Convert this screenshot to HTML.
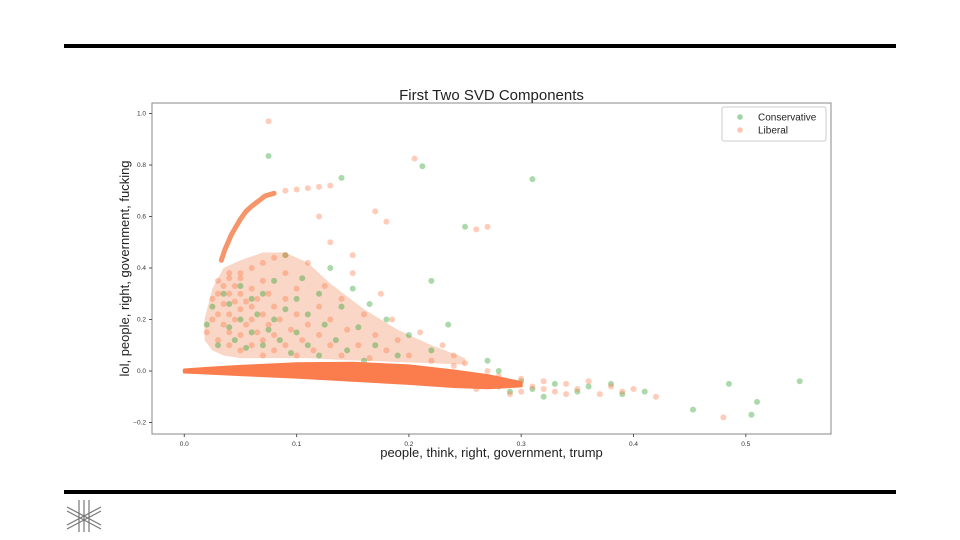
<!DOCTYPE html>
<html><head><meta charset="utf-8"><style>
body{margin:0;background:#fff;font-family:"Liberation Sans","DejaVu Sans",sans-serif;}
#wrap{position:relative;width:960px;height:540px;overflow:hidden;}
</style></head><body>
<div id="wrap">
<div style="position:absolute;left:64px;top:44px;width:832px;height:4px;background:#000"></div>
<div style="position:absolute;left:64px;top:490px;width:832px;height:4px;background:#000"></div>
<svg style="position:absolute;left:64px;top:498px" width="40" height="36" viewBox="0 0 40 36">
<g stroke="#777" stroke-width="1.2" fill="none">
<line x1="15" y1="2" x2="15" y2="34"/><line x1="20" y1="2" x2="20" y2="34"/><line x1="25" y1="2" x2="25" y2="34"/>
<line x1="3" y1="9" x2="37" y2="27"/><line x1="3" y1="13" x2="37" y2="31"/>
<line x1="3" y1="27" x2="37" y2="9"/><line x1="3" y1="31" x2="37" y2="13"/>
</g></svg>
<svg id="chart" width="960" height="540" style="position:absolute;left:0;top:0"></svg>
</div>
<script>
const xTicks=[0.0,0.1,0.2,0.3,0.4,0.5];
const yTicks=[-0.2,0.0,0.2,0.4,0.6,0.8,1.0];
const bandX=[0.0,0.02,0.05,0.1,0.15,0.2,0.24,0.27,0.3];
const bandUpper=[0.004,0.01,0.018,0.028,0.03,0.02,0.0,-0.018,-0.045];
const bandLower=[-0.004,-0.008,-0.014,-0.024,-0.036,-0.048,-0.06,-0.065,-0.058];
const cloudX=[0.018,0.025,0.035,0.05,0.07,0.09,0.11,0.13,0.16,0.19,0.22,0.25];
const cloudUpper=[0.2,0.32,0.4,0.43,0.46,0.46,0.42,0.34,0.24,0.16,0.1,0.05];
const cloudLower=[0.12,0.08,0.06,0.05,0.05,0.05,0.05,0.045,0.04,0.035,0.03,0.025];
const arcX=[0.033,0.036,0.039,0.042,0.046,0.05,0.055,0.06,0.066,0.072,0.08];
const arcY=[0.43,0.47,0.5,0.53,0.56,0.59,0.62,0.64,0.66,0.68,0.69];
const libPts=[[0.075,0.97],[0.205,0.825],[0.48,-0.18],
[0.09,0.7],[0.1,0.705],[0.11,0.71],[0.12,0.715],[0.13,0.72],
[0.03,0.3],[0.035,0.33],[0.04,0.36],[0.05,0.38],[0.06,0.4],[0.07,0.42],[0.08,0.44],[0.09,0.45],
[0.02,0.15],[0.025,0.2],[0.025,0.28],[0.03,0.12],[0.03,0.22],[0.03,0.35],[0.035,0.18],[0.035,0.26],[0.04,0.1],[0.04,0.15],[0.04,0.22],[0.04,0.3],[0.04,0.38],[0.045,0.2],[0.045,0.27],[0.045,0.33],[0.05,0.08],[0.05,0.14],[0.05,0.24],[0.05,0.3],[0.05,0.36],[0.055,0.18],[0.055,0.27],[0.06,0.1],[0.06,0.2],[0.06,0.25],[0.06,0.32],[0.065,0.15],[0.065,0.28],[0.07,0.06],[0.07,0.12],[0.07,0.22],[0.07,0.35],[0.075,0.18],[0.075,0.3],[0.08,0.08],[0.08,0.14],[0.08,0.25],[0.085,0.2],[0.09,0.1],[0.09,0.28],[0.09,0.38],[0.095,0.16],[0.1,0.06],[0.1,0.22],[0.1,0.32],[0.105,0.12],[0.11,0.18],[0.11,0.42],[0.115,0.08],[0.12,0.25],[0.12,0.14],[0.125,0.33],[0.13,0.1],[0.13,0.2],[0.14,0.06],[0.14,0.28],[0.145,0.16],[0.15,0.38],[0.155,0.1],[0.16,0.22],[0.165,0.05],[0.17,0.14],[0.175,0.3],[0.18,0.08],[0.185,0.2],[0.19,0.12],[0.2,0.06],[0.21,0.15],[0.22,0.04],[0.23,0.1],[0.24,0.06],[0.25,0.03],[0.26,0.55],[0.27,0.56],[0.18,0.58],[0.15,0.45],[0.13,0.5],[0.24,0.02],[0.17,0.62],[0.12,0.6],
[0.3,-0.03],[0.31,-0.06],[0.32,-0.04],[0.33,-0.08],[0.34,-0.05],[0.35,-0.07],[0.36,-0.04],[0.37,-0.09],[0.38,-0.06],[0.39,-0.08],[0.4,-0.07],[0.42,-0.1],[0.29,-0.09],[0.28,-0.02],[0.27,0.0],[0.26,-0.07],[0.3,-0.08],[0.32,-0.07],[0.34,-0.09]];
const consPts=[[0.075,0.835],[0.212,0.795],[0.31,0.745],[0.485,-0.05],[0.548,-0.04],[0.505,-0.17],[0.51,-0.12],[0.453,-0.15],
[0.02,0.18],[0.025,0.25],[0.03,0.1],[0.035,0.3],[0.04,0.17],[0.04,0.26],[0.045,0.12],[0.05,0.2],[0.05,0.33],[0.055,0.09],[0.06,0.15],[0.06,0.28],[0.065,0.22],[0.07,0.1],[0.07,0.3],[0.075,0.16],[0.08,0.2],[0.08,0.35],[0.085,0.12],[0.09,0.24],[0.09,0.45],[0.095,0.07],[0.1,0.15],[0.1,0.28],[0.105,0.36],[0.11,0.1],[0.11,0.22],[0.12,0.3],[0.12,0.06],[0.125,0.18],[0.13,0.4],[0.135,0.12],[0.14,0.25],[0.145,0.08],[0.15,0.32],[0.155,0.17],[0.16,0.04],[0.165,0.26],[0.17,0.1],[0.18,0.2],[0.19,0.06],[0.2,0.14],[0.22,0.35],[0.22,0.08],[0.235,0.18],[0.25,0.56],[0.14,0.75],[0.27,0.04],[0.28,0.0],
[0.26,-0.05],[0.28,-0.06],[0.3,-0.04],[0.31,-0.07],[0.33,-0.05],[0.35,-0.08],[0.36,-0.06],[0.38,-0.05],[0.39,-0.09],[0.41,-0.08],[0.29,-0.08],[0.32,-0.1],[0.27,-0.03],[0.25,-0.04]];

const L=152,R=831,T=103,B=434;
const sx=v=>184.3+v*1123;
const sy=v=>371-v*257.5;
const NS='http://www.w3.org/2000/svg';
const svg=document.getElementById('chart');
function mk(tag,attrs,parent){const e=document.createElementNS(NS,tag);for(const k in attrs)e.setAttribute(k,attrs[k]);(parent||svg).appendChild(e);return e;}
function envPath(xs,up,lo){let d='M'+xs.map((x,i)=>sx(x)+','+sy(up[i])).join(' L');
 d+=' L'+xs.slice().reverse().map((x,i)=>sx(x)+','+sy(lo[xs.length-1-i])).join(' L')+' Z';return d;}

const frame=mk('rect',{x:L,y:T,width:R-L,height:B-T,fill:'none',stroke:'#888','stroke-width':1});



const t=mk('text',{x:(L+R)/2,y:100,'text-anchor':'middle','font-size':15,fill:'#222'});
t.textContent='First Two SVD Components';



xTicks.forEach(v=>{
  mk('line',{x1:sx(v),x2:sx(v),y1:B,y2:B+3,stroke:'#555'});
  const e=mk('text',{x:sx(v),y:B+12,'text-anchor':'middle','font-size':6.5,fill:'#333'});
  e.textContent=v.toFixed(1);
  
  
});
yTicks.forEach(v=>{
  mk('line',{x1:L-3,x2:L,y1:sy(v),y2:sy(v),stroke:'#555'});
  const e=mk('text',{x:L-6,y:sy(v)+2,'text-anchor':'end','font-size':6.5,fill:'#333'});
  e.textContent=v<0?'\u2212'+Math.abs(v).toFixed(1):v.toFixed(1);
  
  
});
const xl=mk('text',{x:(L+R)/2,y:457,'text-anchor':'middle','font-size':13,fill:'#222'});
xl.textContent='people, think, right, government, trump';


const yl=mk('text',{x:0,y:0,'text-anchor':'middle','font-size':13,fill:'#222',transform:`translate(129,${(T+B)/2}) rotate(-90)`});
yl.textContent='lol, people, right, government, fucking';



const cloud=mk('path',{d:envPath(cloudX,cloudUpper,cloudLower),fill:'#f2a47e','fill-opacity':0.45});


const arc=mk('polyline',{points:arcX.map((x,i)=>sx(x)+','+sy(arcY[i])).join(' '),fill:'none',stroke:'#f5834f','stroke-width':5,'stroke-linecap':'round','stroke-opacity':0.85});



const gPts=mk('g',{});


consPts.forEach(p=>{
  const c=mk('circle',{cx:sx(p[0]),cy:sy(p[1]),r:3,fill:'#2ca02c','fill-opacity':0.4},gPts);
  
  
});
libPts.forEach(p=>{
  const c=mk('circle',{cx:sx(p[0]),cy:sy(p[1]),r:3,fill:'#ff7f50','fill-opacity':0.4},gPts);
  
  
});
const band=mk('path',{d:envPath(bandX,bandUpper,bandLower),fill:'#fb7c4c',stroke:'#fb7c4c','stroke-width':3,'stroke-linejoin':'round'});



const lg=mk('g',{});


mk('rect',{x:722,y:107,width:104,height:34,rx:2,fill:'#fff','fill-opacity':0.8,stroke:'#ccc'},lg);
const items=[['Conservative','#2ca02c',0.45],['Liberal','#ff7f50',0.45]];
items.forEach((it,i)=>{
  mk('circle',{cx:740,cy:117+i*13,r:2.8,fill:it[1],'fill-opacity':it[2]},lg);
  const tx=mk('text',{x:758,y:120.5+i*13,'font-size':10,fill:'#222'},lg);
  tx.textContent=it[0];
  
  
});
</script>
</body></html>
